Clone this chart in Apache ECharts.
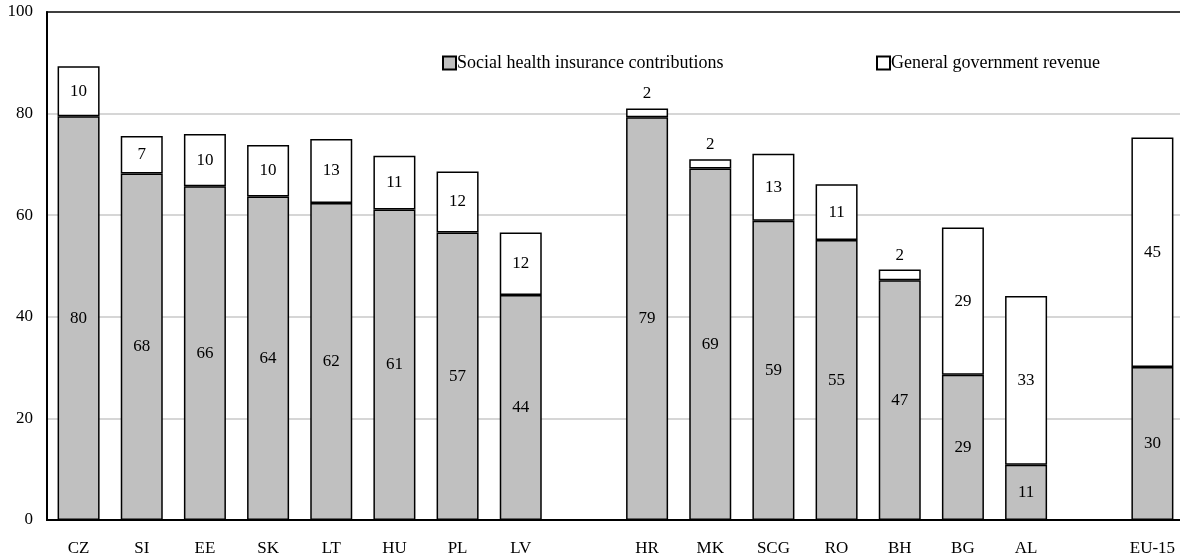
<!DOCTYPE html>
<html>
<head>
<meta charset="utf-8">
<script src="https://cdn.jsdelivr.net/npm/echarts@6/dist/echarts.min.js"></script>
<style>
  html, body { margin: 0; padding: 0; background: #fff; }
  #chart { width: 1180px; height: 557px; }
</style>
</head>
<body>
<div id="chart"></div>
<script>
// Health financing shares (% of total), empty strings separate country groups
const categories = ['CZ', 'SI', 'EE', 'SK', 'LT', 'HU', 'PL', 'LV', '',
  'HR', 'MK', 'SCG', 'RO', 'BH', 'BG', 'AL', '', 'EU-15'];

const socialInsurance = [79.5, 68.2, 65.7, 63.7, 62.4, 61.1, 56.6, 44.3, null,
  79.3, 69.2, 58.9, 55.1, 47.2, 28.6, 10.9, null, 30.1];

const generalRevenue = [9.8, 7.4, 10.3, 10.1, 12.6, 10.6, 12.0, 12.3, null,
  1.7, 1.8, 13.2, 11.0, 2.1, 29.0, 33.2, null, 45.2];

const yTicks = { min: 0, max: 100, interval: 20 };

const FONT = '"Liberation Serif", "Times New Roman", serif';

// Thin segments get their label above the bar instead of inside it
const revenueData = generalRevenue.map(v => {
  if (v === null) return null;
  return {
    value: v,
    label: { position: v < 4 ? 'top' : 'inside', distance: 6 }
  };
});

const chart = echarts.init(document.getElementById('chart'), null, { renderer: 'canvas' });

const labelStyle = {
  show: true,
  color: '#000',
  fontFamily: FONT,
  fontSize: 17,
  formatter: p => Math.round(p.value)
};

const legendText = { fontFamily: FONT, fontSize: 18, color: '#000', padding: [0, 0, 0, -4] };

chart.setOption({
  animation: false,
  backgroundColor: '#fff',
  textStyle: { fontFamily: FONT },
  grid: {
    left: 47, top: 12, width: 1137, height: 508,
    outerBoundsMode: 'none',
    containLabel: false,
    show: true, borderColor: '#000', borderWidth: 1.5,
    backgroundColor: 'transparent'
  },
  legend: [
    {
      data: ['Social health insurance contributions'],
      left: 437, top: 49,
      itemWidth: 13, itemHeight: 13, icon: 'rect',
      textStyle: legendText
    },
    {
      data: ['General government revenue'],
      left: 871, top: 49,
      itemWidth: 13, itemHeight: 13, icon: 'rect',
      textStyle: legendText
    }
  ],
  xAxis: {
    type: 'category',
    data: categories,
    axisLine: { show: true, lineStyle: { color: '#000', width: 2 } },
    axisTick: { show: false },
    axisLabel: { color: '#000', fontFamily: FONT, fontSize: 17, margin: 20, interval: 0 }
  },
  yAxis: {
    type: 'value',
    min: yTicks.min, max: yTicks.max, interval: yTicks.interval,
    axisLine: { show: true, lineStyle: { color: '#000', width: 2 } },
    axisTick: { show: false },
    axisLabel: { color: '#000', fontFamily: FONT, fontSize: 17, margin: 14 },
    splitLine: {
      show: true, showMinLine: false, showMaxLine: false,
      lineStyle: { color: '#c8c8c8', width: 1.5 }
    }
  },
  series: [
    {
      name: 'Social health insurance contributions',
      type: 'bar',
      stack: 'total',
      barWidth: '66.5%',
      data: socialInsurance,
      itemStyle: { color: '#c0c0c0', borderColor: '#000', borderWidth: 1.5 },
      label: Object.assign({ position: 'inside' }, labelStyle)
    },
    {
      name: 'General government revenue',
      type: 'bar',
      stack: 'total',
      barWidth: '66.5%',
      data: revenueData,
      itemStyle: { color: '#fff', borderColor: '#000', borderWidth: 1.5 },
      label: labelStyle
    }
  ]
});
</script>
</body>
</html>
